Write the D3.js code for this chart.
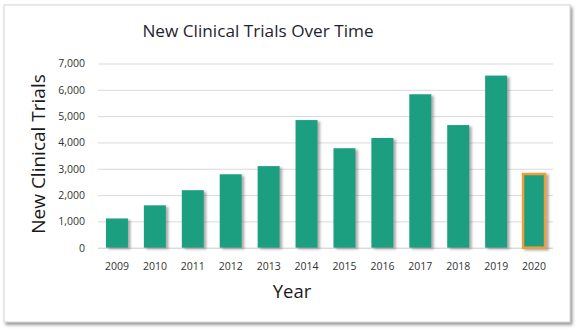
<!DOCTYPE html>
<html>
<head>
<meta charset="utf-8">
<script src="https://cdn.jsdelivr.net/npm/d3@7/dist/d3.min.js"></script>
<style>
  html, body { margin: 0; padding: 0; background: #fff; }
  svg { display: block; }
  text { font-family: "Open Sans", "Noto Sans", sans-serif; }
</style>
</head>
<body>
<svg id="chart" width="580" height="334"></svg>
<script>
const years = ["2009","2010","2011","2012","2013","2014","2015","2016","2017","2018","2019","2020"];
const trials = [1110, 1610, 2185, 2790, 3100, 4850, 3780, 4170, 5830, 4660, 6540, 2800];
const highlighted = ["2020"];
const yTicks = [0, 1000, 2000, 3000, 4000, 5000, 6000, 7000];

const title = "New Clinical Trials Over Time";
const yTitle = "New Clinical Trials";
const xTitle = "Year";

const W = 580, H = 334;
const margin = { left: 98, right: 27, top: 63.5, bottom: 86.3 };
const svg = d3.select("#chart");

const defs = svg.append("defs");
const cardShadow = defs.append("filter").attr("id", "cardShadow")
  .attr("x", "-5%").attr("y", "-5%").attr("width", "110%").attr("height", "115%");
cardShadow.append("feDropShadow").attr("dx", 2).attr("dy", 2.5)
  .attr("stdDeviation", 1.6).attr("flood-color", "#777").attr("flood-opacity", 0.75);
const barShadow = defs.append("filter").attr("id", "barShadow")
  .attr("x", "-20%").attr("y", "-5%").attr("width", "160%").attr("height", "115%");
barShadow.append("feDropShadow").attr("dx", 2.5).attr("dy", 1.5)
  .attr("stdDeviation", 1.2).attr("flood-color", "#666").attr("flood-opacity", 0.55);

svg.append("rect").attr("width", W).attr("height", H).attr("fill", "#fff");
svg.append("rect")
  .attr("x", 4).attr("y", 5).attr("width", 566).attr("height", 317)
  .attr("fill", "#fff").attr("stroke", "#d4d4d4").attr("stroke-width", 1)
  .attr("filter", "url(#cardShadow)");

const x = d3.scaleBand().domain(years)
  .range([margin.left, W - margin.right]).paddingInner(0.42).paddingOuter(0.21);
const y = d3.scaleLinear().domain([0, 7000]).range([H - margin.bottom, margin.top]);

// gridlines + y axis
const yAxis = svg.append("g")
  .attr("transform", `translate(${margin.left},0)`)
  .call(d3.axisLeft(y).tickValues(yTicks).tickFormat(d3.format(",")).tickSize(-(W - margin.left - margin.right)).tickPadding(13));
yAxis.select(".domain").remove();
yAxis.selectAll(".tick line").attr("stroke", "#d9d9d9").attr("stroke-width", 1);
yAxis.selectAll(".tick text").attr("fill", "#333").attr("font-size", "10.5px");
yAxis.selectAll(".tick").filter(d => d === 0).select("line").attr("stroke", "#c8c8c8");

// bars
const data = years.map((yr, i) => ({ year: yr, value: trials[i] }));
svg.append("g").selectAll("rect").data(data).join("rect")
  .attr("x", d => x(d.year))
  .attr("y", d => y(d.value))
  .attr("width", x.bandwidth())
  .attr("height", d => y(0) - y(d.value))
  .attr("fill", "#1d9f80")
  .attr("stroke", d => highlighted.includes(d.year) ? "#f29d38" : "none")
  .attr("stroke-width", d => highlighted.includes(d.year) ? 2.5 : 0)
  .attr("filter", "url(#barShadow)");

// x axis labels
const xAxis = svg.append("g")
  .attr("transform", `translate(0,${y(0)})`)
  .call(d3.axisBottom(x).tickSize(0).tickPadding(15));
xAxis.select(".domain").remove();
xAxis.selectAll(".tick text").attr("fill", "#333").attr("font-size", "10.5px");

// titles
svg.append("text").attr("x", 258).attr("y", 37).attr("text-anchor", "middle")
  .attr("font-size", "17.2px").attr("fill", "#1f2430").text(title);
svg.append("text").attr("transform", "translate(45,154) rotate(-90)")
  .attr("text-anchor", "middle").attr("font-size", "19px").attr("fill", "#1a1a1a").text(yTitle);
svg.append("text").attr("x", 292).attr("y", 298).attr("text-anchor", "middle")
  .attr("font-size", "18.5px").attr("fill", "#1a1a1a").text(xTitle);
</script>
</body>
</html>
